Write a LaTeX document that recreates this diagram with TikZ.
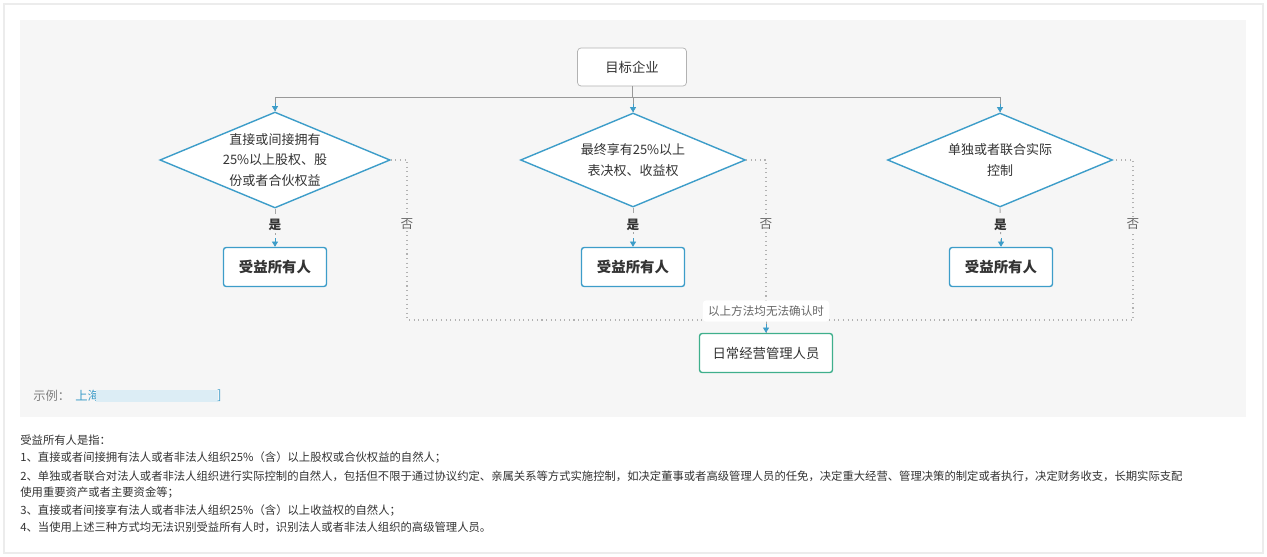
\documentclass[tikz,border=0pt]{standalone}
\usepackage{fontspec}
\setmainfont{Noto Sans CJK SC}
\usetikzlibrary{shapes.geometric,arrows.meta,calc}
\definecolor{blueln}{HTML}{3D9DC9}
\definecolor{greenln}{HTML}{3FAF8C}
\definecolor{txt}{HTML}{333333}
\definecolor{gtxt}{HTML}{666666}
\tikzset{
 dia/.style={diamond,draw=blueln,fill=white,line width=0.8pt,minimum width=4.5cm,minimum height=1.88cm,aspect=2.4,inner sep=0pt,font=\fontsize{7.4}{11.5}\selectfont,text=txt,align=center},
 res/.style={draw=blueln,fill=white,rounded corners=1.5pt,line width=0.8pt,minimum width=2.06cm,minimum height=0.78cm,font=\fontsize{8.2}{10}\selectfont\bfseries,text=txt},
 conn/.style={draw=gray!80,line width=0.5pt},
 btip/.style={-{Triangle[width=3.5pt,length=3pt]},blueln,line width=0.5pt},
 yes/.style={draw=gray!70,dashed,line width=0.5pt},
 no/.style={draw=gray!60,dotted,line width=0.6pt},
 lbl/.style={font=\fontsize{7.2}{9}\selectfont,fill=white!97!gray,inner sep=1pt},
 note/.style={font=\fontsize{6.45}{7}\selectfont,text=txt,anchor=west,inner sep=0pt},
}
\begin{document}
\begin{tikzpicture}[x=0.02cm,y=-0.02cm]
\useasboundingbox (0,0) rectangle (1267,557);
\fill[white] (0,0) rectangle (1267,557);
\draw[gray!15,line width=1pt] (4,4) rectangle (1263,553);
\fill[gray!7] (20,20) rectangle (1246,417);
\node[draw=gray!60,fill=white,rounded corners=2pt,minimum width=2.18cm,minimum height=0.76cm,font=\fontsize{7.6}{9}\selectfont,text=txt] (top) at (632,67) {目标企业};
\node[dia] (d1) at (275,160) {直接或间接拥有\\25\%以上股权、股\\份或者合伙权益};
\node[dia] (d2) at (633,160) {最终享有25\%以上\\表决权、收益权};
\node[dia] (d3) at (1000,160) {单独或者联合实际\\控制};
\node[res] (r1) at (275,267) {受益所有人};
\node[res] (r2) at (633,267) {受益所有人};
\node[res] (r3) at (1001,267) {受益所有人};
\node[draw=greenln,fill=white,rounded corners=1.5pt,line width=0.8pt,minimum width=2.66cm,minimum height=0.78cm,font=\fontsize{7.6}{9}\selectfont,text=txt] (mg) at (766,353) {日常经营管理人员};
\coordinate (h) at (632,97);
\draw[conn] (top.south) -- (h);
\draw[conn] (d1.north |- h) -- (d3.north |- h);
\foreach \d in {d1,d2,d3}{
 \draw[conn] (\d.north |- h) -- (\d.north);
 \draw[btip] ([yshift=5pt]\d.north) -- (\d.north);
}
\foreach \d/\r in {d1/r1,d2/r2,d3/r3}{
 \draw[yes] (\d.south) -- (\r.north);
 \draw[btip] ([yshift=5pt]\r.north) -- (\r.north);
 \node[lbl,fill=gray!7,font=\fontsize{7.2}{9}\selectfont\bfseries,text=txt] at ($(\d.south)!0.43!(\r.north)$) {是};
}
\coordinate (b1) at (407,320);\coordinate (b2) at (766,320);\coordinate (b3) at (1133,320);
\draw[no] (d1.east) -| (b1) -- (b3) |- (d3.east);
\draw[no] (d2.east) -| (b2);
\foreach \x in {407,766,1133} \node[lbl,fill=gray!7,text=gtxt] at (\x,224) {否};
\draw[yes] (b2) -- (mg.north);
\draw[btip] ([yshift=5pt]mg.north) -- (mg.north);
\node[fill=white,rounded corners=2pt,inner sep=3pt,font=\fontsize{6.6}{8}\selectfont,text=gtxt] at (766,311) {以上方法均无法确认时};
\node[note,font=\fontsize{7}{8}\selectfont,text=gray] at (33,396) {示例：};
\node[note,font=\fontsize{7}{8}\selectfont,text=blueln] at (75,396) {上海};
\fill[blueln!18] (96,390) rectangle (218,402);
\node[note,font=\fontsize{7}{8}\selectfont,text=blueln] at (217,396) {]};
\node[note] at (20,440) {受益所有人是指：};
\node[note] at (20,458) {1、直接或者间接拥有法人或者非法人组织25\%（含）以上股权或合伙权益的自然人；};
\node[note] at (20,476) {2、单独或者联合对法人或者非法人组织进行实际控制的自然人，包括但不限于通过协议约定、亲属关系等方式实施控制，如决定董事或者高级管理人员的任免，决定重大经营、管理决策的制定或者执行，决定财务收支，长期实际支配};
\node[note] at (20,493) {使用重要资产或者主要资金等；};
\node[note] at (20,511) {3、直接或者间接享有法人或者非法人组织25\%（含）以上收益权的自然人；};
\node[note] at (20,527) {4、当使用上述三种方式均无法识别受益所有人时，识别法人或者非法人组织的高级管理人员。};
\end{tikzpicture}
\end{document}
